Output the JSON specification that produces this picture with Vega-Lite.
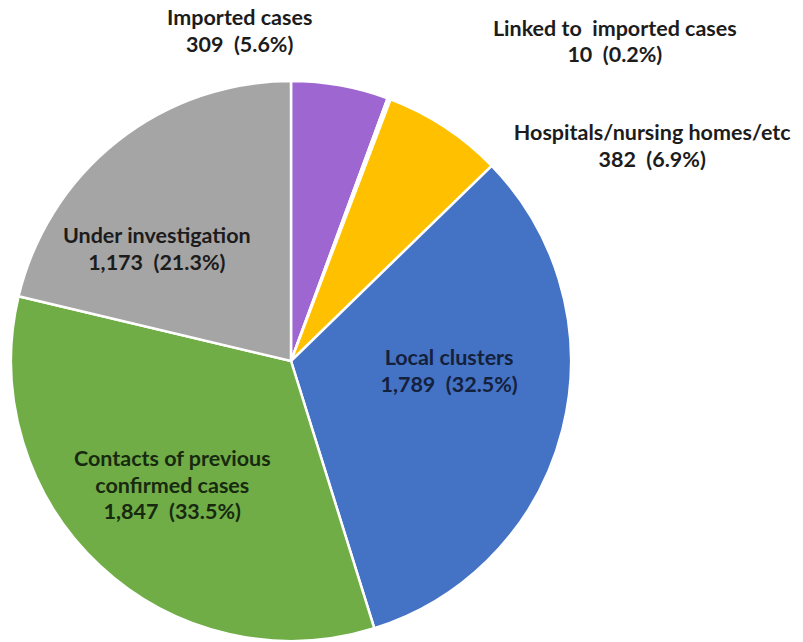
{
  "$schema": "https://vega.github.io/schema/vega-lite/v6.json",
  "width": 582,
  "height": 562,
  "autosize": {"type": "none"},
  "padding": {"left": 0, "top": 80, "right": 221, "bottom": 0},
  "background": "white",
  "config": {"view": {"stroke": null}, "text": {"font": "Lato", "fontWeight": "bold", "fontSize": 21.5, "lineHeight": 26.5, "lineBreak": "\n"}},
  "data": {
    "values": [
      {"cat": "Imported cases", "cases": 309, "order": 1, "label": "Imported cases\n309\u00a0 (5.6%)"},
      {"cat": "Linked to imported cases", "cases": 10, "order": 2, "label": "Linked to\u00a0 imported cases\n10\u00a0 (0.2%)"},
      {"cat": "Hospitals/nursing homes/etc", "cases": 382, "order": 3, "label": "Hospitals/nursing homes/etc\n382\u00a0 (6.9%)"},
      {"cat": "Local clusters", "cases": 1789, "order": 4, "label": "Local clusters\n1,789\u00a0 (32.5%)"},
      {"cat": "Contacts of previous confirmed cases", "cases": 1847, "order": 5, "label": "Contacts of previous\nconfirmed cases\n1,847\u00a0 (33.5%)"},
      {"cat": "Under investigation", "cases": 1173, "order": 6, "label": "Under investigation\n1,173\u00a0 (21.3%)"}
    ]
  },
  "encoding": {
    "theta": {"field": "cases", "type": "quantitative", "stack": true},
    "order": {"field": "order", "type": "quantitative"}
  },
  "layer": [
    {
      "mark": {"type": "arc", "outerRadius": 280, "stroke": "white", "strokeWidth": 2.5},
      "encoding": {
        "color": {
          "field": "cat",
          "type": "nominal",
          "legend": null,
          "scale": {
            "domain": ["Imported cases", "Linked to imported cases", "Hospitals/nursing homes/etc", "Local clusters", "Contacts of previous confirmed cases", "Under investigation"],
            "range": ["#9e66d1", "#ffffff", "#ffc000", "#4472c4", "#70ad47", "#a5a5a5"]
          }
        }
      }
    },
    {
      "mark": {"type": "text", "radius": 335, "dx": -110, "dy": -12, "fill": "#1c1c1c"},
      "encoding": {"text": {"field": "label"}, "opacity": {"condition": {"test": "datum.cat === 'Imported cases'", "value": 1}, "value": 0}}
    },
    {
      "mark": {"type": "text", "radius": 339, "dx": 205, "dy": -14, "fill": "#1c1c1c"},
      "encoding": {"text": {"field": "label"}, "opacity": {"condition": {"test": "datum.cat === 'Linked to imported cases'", "value": 1}, "value": 0}}
    },
    {
      "mark": {"type": "text", "radius": 257, "dx": 220, "dy": -12, "fill": "#1c1c1c"},
      "encoding": {"text": {"field": "label"}, "opacity": {"condition": {"test": "datum.cat === 'Hospitals/nursing homes/etc'", "value": 1}, "value": 0}}
    },
    {
      "mark": {"type": "text", "radius": 160, "dx": 3, "dy": -41, "fill": "#14213d"},
      "encoding": {"text": {"field": "label"}, "opacity": {"condition": {"test": "datum.cat === 'Local clusters'", "value": 1}, "value": 0}}
    },
    {
      "mark": {"type": "text", "radius": 174, "dy": -28, "fill": "#172a0f"},
      "encoding": {"text": {"field": "label"}, "opacity": {"condition": {"test": "datum.cat === 'Contacts of previous confirmed cases'", "value": 1}, "value": 0}}
    },
    {
      "mark": {"type": "text", "radius": 160, "dx": -35, "dy": 2, "fill": "#1c1c1c"},
      "encoding": {"text": {"field": "label"}, "opacity": {"condition": {"test": "datum.cat === 'Under investigation'", "value": 1}, "value": 0}}
    }
  ]
}
